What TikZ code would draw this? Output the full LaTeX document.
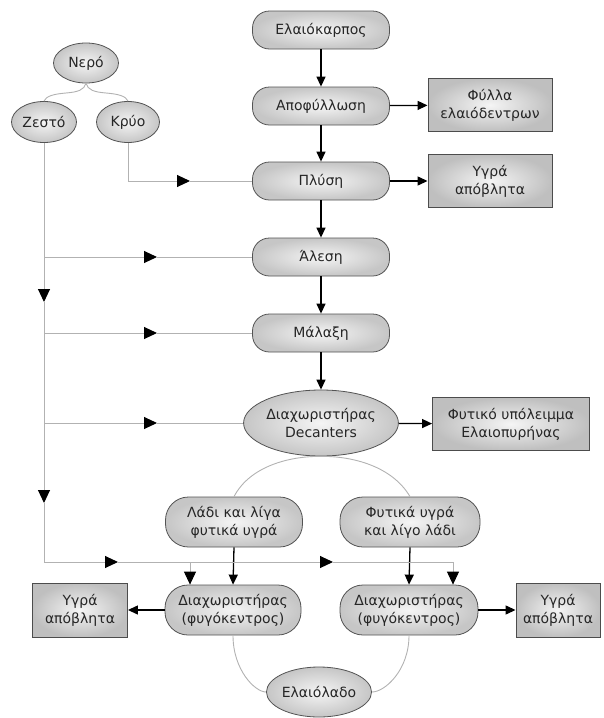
\documentclass[tikz,border=0pt]{standalone}
\usepackage{fontspec}
\setmainfont{DejaVu Sans}
\usetikzlibrary{shapes.geometric,arrows.meta,calc}
\begin{document}
\begin{tikzpicture}[x=1pt,y=-1pt,
  every node/.style={font=\fontsize{14}{18}\selectfont, text=black!85, align=center, inner sep=0pt},
  procbox/.style={draw=gray!65!black, line width=0.8pt, rounded corners=17pt, inner color=gray!8, outer color=gray!45, minimum width=137pt, minimum height=38pt},
  procbig/.style={procbox, rounded corners=23pt, minimum height=50pt},
  ellnode/.style={ellipse, draw=gray!65!black, line width=0.8pt, inner color=gray!8, outer color=gray!45},
  outbox/.style={rectangle, draw=gray!60!black, line width=0.9pt, inner color=gray!8, outer color=gray!50, minimum height=53pt},
  flow/.style={draw=black, line width=1.3pt, -{Triangle[length=10pt,width=9pt]}},
  wline/.style={draw=gray!60, line width=1pt},
  wtip/.style={wline, -{Triangle[length=13pt,width=12pt,color=black]}},
  arcline/.style={draw=gray!60, line width=0.9pt}
]
\useasboundingbox (0,0) rectangle (603,718);

% main column
\node[procbox] (e) at (321,30) {Ελαιόκαρπος};
\node[procbox] (a) at (321,106) {Αποφύλλωση};
\node[procbox] (p) at (321,181) {Πλύση};
\node[procbox] (al) at (321,257) {Άλεση};
\node[procbox] (m) at (321,333) {Μάλαξη};
\node[ellnode, minimum width=152pt, minimum height=66pt] (d) at (321,423) {Διαχωριστήρας\\Decanters};

% outputs right
\node[outbox, minimum width=124pt] (fyl) at (490,105) {Φύλλα\\ελαιόδεντρων};
\node[outbox, minimum width=124pt] (yg1) at (490,181) {Υγρά\\απόβλητα};
\node[outbox, minimum width=157pt] (fyt) at (511,424) {Φυτικό υπόλειμμα\\Ελαιοπυρήνας};

% water
\node[ellnode, minimum width=65pt, minimum height=40pt] (nero) at (86,63) {Νερό};
\node[ellnode, minimum width=65pt, minimum height=41pt] (zesto) at (44,122) {Ζεστό};
\node[ellnode, minimum width=63pt, minimum height=41pt] (kryo) at (128,122) {Κρύο};

% lower part
\node[procbig, minimum width=137pt] (ladi) at (234,522) {Λάδι και λίγα\\φυτικά υγρά};
\node[procbig, minimum width=140pt] (fyti) at (410,522) {Φυτικά υγρά\\και λίγο λάδι};
\node[procbig, minimum width=136pt] (sepL) at (233,610) {Διαχωριστήρας\\(φυγόκεντρος)};
\node[procbig, minimum width=138pt] (sepR) at (409,610) {Διαχωριστήρας\\(φυγόκεντρος)};
\node[outbox, minimum width=95pt, minimum height=54pt] (ygL) at (80,610) {Υγρά\\απόβλητα};
\node[outbox, minimum width=84pt, minimum height=54pt] (ygR) at (558,610) {Υγρά\\απόβλητα};
\node[ellnode, minimum width=88pt, minimum height=50pt] (elaio) at (319,692) {Ελαιόλαδο};

% main flow
\draw[flow] (e) -- (a);
\draw[flow] (a) -- (p);
\draw[flow] (p) -- (al);
\draw[flow] (al) -- (m);
\draw[flow] (m) -- (d);
\draw[flow] (a) -- (fyl);
\draw[flow] (p) -- (yg1);
\draw[flow] (d) -- (fyt);
\draw[flow] (ladi.south) -- (sepL.north);
\draw[flow] (fyti.south) -- (sepR.north);
\draw[flow] (sepL) -- (ygL);
\draw[flow] (sepR) -- (ygR);

% arcs
\draw[arcline] (nero.south) .. controls (84,90) and (78,92) .. (66,93) .. controls (54,94) and (46,96) .. (zesto.north);
\draw[arcline] (nero.south) .. controls (88,90) and (94,92) .. (106,93) .. controls (118,94) and (126,96) .. (kryo.north);
\draw[arcline] (ladi.north) .. controls (250,466) and (290,456) .. (d.south) .. controls (352,456) and (392,466) .. (fyti.north);
\draw[arcline] (sepL.south) .. controls (233,670) and (255,692) .. (elaio.west);
\draw[arcline] (sepR.south) .. controls (409,670) and (385,692) .. (elaio.east);

% water lines
\coordinate (k1) at (190,181);
\draw[wtip] (kryo.south) |- (k1);
\draw[wline] (k1) -- (p.west);

\coordinate (v1) at (44,302);
\coordinate (v2) at (44,503);
\coordinate (v3) at (44,562);
\coordinate (h1) at (118,562);
\coordinate (h2) at (333,562);
\coordinate (h3) at (453,562);
\coordinate (b1) at (190,562);
\draw[wtip] (zesto.south) -- (v1);
\draw[wtip] (v1) -- (v2);
\draw[wline] (v2) -- (v3);
\draw[wtip] (v3) -- (h1);
\draw[wtip] (h1) -- (h2);
\draw[wline] (h2) -- (h3);
\draw[wtip] (h3) -- (h3 |- sepR.north);
\draw[wtip] (b1) -- (b1 |- sepL.north);

\coordinate (s1) at (44,257);
\coordinate (t1) at (157,257);
\draw[wtip] (s1) -- (t1);
\draw[wline] (t1) -- (al.west);
\coordinate (s2) at (44,333);
\coordinate (t2) at (157,333);
\draw[wtip] (s2) -- (t2);
\draw[wline] (t2) -- (m.west);
\coordinate (s3) at (44,423);
\coordinate (t3) at (157,423);
\draw[wtip] (s3) -- (t3);
\draw[wline] (t3) -- (d.west);
\end{tikzpicture}
\end{document}
